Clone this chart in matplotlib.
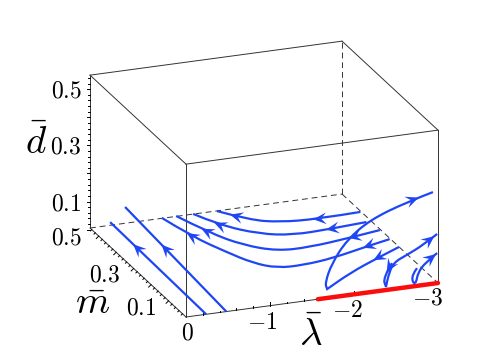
import matplotlib
matplotlib.use("Agg")
import matplotlib.pyplot as plt
import numpy as np
from matplotlib.path import Path
from matplotlib.patches import PathPatch, Polygon

plt.rcParams["mathtext.fontset"] = "cm"
plt.rcParams["font.family"] = "DejaVu Serif"

BLUE = "#1f46f5"
RED = "#fb0d0d"
BOX = "#333333"

# box limits
lam_max = 3.0
m_max = 0.55
d_max = 0.544

d_ticks = [0.1, 0.3, 0.5]
m_ticks = [0.1, 0.3, 0.5]
lam_ticks = [0, 1, 2, 3]

# trajectories on the floor, lam is -lambda
c1_lam = [2.99, 2.46, 2.04, 1.75, 1.51]
c1_m = [0.44, 0.433, 0.444, 0.477, 0.549]
c2_lam = [2.94, 2.48, 2.03, 1.70, 1.38, 1.23]
c2_m = [0.381, 0.370, 0.365, 0.394, 0.472, 0.551]
c3_lam = [2.99, 2.63, 2.07, 1.69, 1.40, 1.19, 1.03]
c3_m = [0.328, 0.310, 0.287, 0.290, 0.347, 0.436, 0.552]
c4_lam = [2.99, 2.69, 2.19, 1.80, 1.50, 1.30, 1.15, 0.97, 0.86]
c4_m = [0.272, 0.251, 0.211, 0.195, 0.198, 0.243, 0.321, 0.427, 0.552]
l1_lam = [0.24, 0.275]
l1_m = [0.0, 0.567]
l2_lam = [0.48, 0.60]
l2_m = [0.0, 0.638]

# trajectories that leave the floor
loop_lam = [3.0, 2.65, 2.20, 1.78, 1.78, 1.655, 1.738, 1.917, 2.19, 2.63, 2.94]
loop_m = [0.223, 0.179, 0.118, 0.048, 0.048, 0, 0, 0, 0, 0, 0]
loop_d = [0, 0, 0, 0, 0, 0.054, 0.122, 0.197, 0.257, 0.303, 0.326]
e1_lam = [2.452, 2.345, 2.381, 2.381, 2.405, 2.464, 2.63, 2.82, 2.99]
e1_d = [0.093, 0.044, 0.011, 0.011, 0.046, 0.093, 0.115, 0.142, 0.175]
e2_lam = [2.75, 2.69, 2.70, 2.74, 2.76, 2.845, 2.99]
e2_d = [0.063, 0.041, 0.012, 0.011, 0.045, 0.078, 0.107]

# red fixed line
red_lam = [1.57, 3.0]


def project(lam, m, d=0.0):
    """
    Map (-lambda, m, d) to pixel position in the figure.
    """
    lam = np.asarray(lam, dtype=float)
    m = np.asarray(m, dtype=float)
    d = np.asarray(d, dtype=float)
    x = 186 + 84 * lam - 174.5 * m
    y = 317 - 11.33 * lam - 161.8 * m - 281 * d
    return x, y


def edge(ax, a, b, dashed=False):
    x, y = project(*zip(a, b))
    ax.plot(x, y, color=BOX, lw=0.7, ls=(0, (6, 4)) if dashed else "-", zorder=1)


def arrow_head(ax, x, y, pos, size=13):
    """
    Notched arrow head with its tip at fractional index pos.
    """
    i = int(pos)
    f = pos - i
    tip = np.array([x[i] + f * (x[i + 1] - x[i]), y[i] + f * (y[i + 1] - y[i])])
    u = np.array([x[i + 1] - x[i], y[i + 1] - y[i]])
    u = u / np.hypot(*u)
    n = np.array([-u[1], u[0]])
    pts = [tip, tip - size * u + 0.45 * size * n, tip - 0.6 * size * u,
           tip - size * u - 0.45 * size * n]
    ax.add_patch(Polygon(pts, closed=True, color=BLUE, lw=0, zorder=4))


def trajectory(ax, lam, m, d=0.0, arrows=()):
    """
    Smooth curve with the read points as control points.
    """
    x, y = project(lam, m, d)
    verts = [(x[0], y[0])]
    codes = [Path.MOVETO]
    for i in range(1, len(x) - 1):
        verts.append((x[i], y[i]))
        codes.append(Path.CURVE3)
        if i < len(x) - 2:
            verts.append(((x[i] + x[i + 1]) / 2, (y[i] + y[i + 1]) / 2))
        else:
            verts.append((x[i + 1], y[i + 1]))
        codes.append(Path.CURVE3)
    if len(x) == 2:
        verts.append((x[1], y[1]))
        codes.append(Path.LINETO)
    ax.add_patch(PathPatch(Path(verts, codes), fc="none", ec=BLUE, lw=1.6, zorder=3))
    for pos in arrows:
        arrow_head(ax, x, y, pos)


fig = plt.figure(figsize=(4.91, 3.53), dpi=100)
ax = fig.add_axes([0, 0, 1, 1])
ax.set_xlim(0, 491)
ax.set_ylim(353, 0)
ax.axis("off")

# box
edge(ax, (0, m_max, d_max), (3, m_max, d_max))
edge(ax, (3, m_max, d_max), (3, 0, d_max))
edge(ax, (3, 0, d_max), (0, 0, d_max))
edge(ax, (0, 0, d_max), (0, m_max, d_max))
edge(ax, (0, m_max, 0), (0, m_max, d_max))
edge(ax, (0, 0, 0), (0, 0, d_max))
edge(ax, (3, 0, 0), (3, 0, d_max))
edge(ax, (0, 0, 0), (3, 0, 0))
edge(ax, (0, 0, 0), (0, m_max, 0))
edge(ax, (3, m_max, 0), (3, m_max, d_max), dashed=True)
edge(ax, (0, m_max, 0), (3, m_max, 0), dashed=True)
edge(ax, (3, m_max, 0), (3, 0, 0), dashed=True)

# minor and major ticks
for t in np.arange(0, d_max, 0.02):
    x, y = project(0, m_max, t - 0.006)
    size = 3.5 if round(t * 100) % 10 == 0 else 1.8
    ax.plot([x, x - size], [y, y], color="k", lw=0.7, zorder=1)
for t in np.arange(0.02, m_max, 0.02):
    x, y = project(0, t, 0)
    size = 3.5 if round(t * 100) % 10 == 0 else 1.8
    ax.plot([x, x - size * 0.7], [y, y + size * 0.7], color="k", lw=0.7, zorder=1)
for t in np.arange(0.2, lam_max, 0.2):
    x, y = project(t, 0, 0)
    size = 3.5 if abs(t - round(t)) < 0.01 else 1.8
    ax.plot([x, x], [y, y - size], color="k", lw=0.7, zorder=1)

# trajectories
trajectory(ax, c1_lam, c1_m, arrows=[1.1, 3.6])
trajectory(ax, c2_lam, c2_m, arrows=[1.1, 4.2])
trajectory(ax, c3_lam, c3_m, arrows=[1.1, 5.25])
trajectory(ax, c4_lam, c4_m, arrows=[1.15, 7.2])
trajectory(ax, l1_lam, l1_m, arrows=[0.76])
trajectory(ax, l2_lam, l2_m, arrows=[0.64])
trajectory(ax, loop_lam, loop_m, loop_d, arrows=[1.15, 9.45])
trajectory(ax, e1_lam, 0.0 * np.array(e1_lam), e1_d, arrows=[0.6, 7.8])
trajectory(ax, e2_lam, 0.0 * np.array(e2_lam), e2_d, arrows=[5.9])

x, y = project(red_lam, [0, 0])
ax.plot(x, y, color=RED, lw=3.2, solid_capstyle="round", zorder=5)

# tick labels
for t in d_ticks:
    x, y = project(0, m_max, t - 0.006)
    ax.text(x - 24, y + 2, f"${t}$", fontsize=17, ha="center", va="center")
for t, dx, dy in zip(m_ticks, [-27, -29, -32], [7, 6.5, 2]):
    x, y = project(0, t, 0)
    ax.text(x + dx, y + dy, f"${t}$", fontsize=17, ha="center", va="center")
for t, dx, dy in zip(lam_ticks, [1, -8, -7, -10], [16, 17, 16, 15]):
    x, y = project(t, 0, 0)
    label = "$0$" if t == 0 else f"$-{t}$"
    ax.text(x + dx, y + dy, label, fontsize=17, ha="center", va="center")

# axis titles
ax.text(36, 143, r"$\bar{d}$", fontsize=28, ha="center", va="center")
ax.text(93, 303, r"$\bar{m}$", fontsize=28, ha="center", va="center")
ax.text(311, 335, r"$\bar{\lambda}$", fontsize=28, ha="center", va="center")

fig.savefig("out.png", dpi=100)
